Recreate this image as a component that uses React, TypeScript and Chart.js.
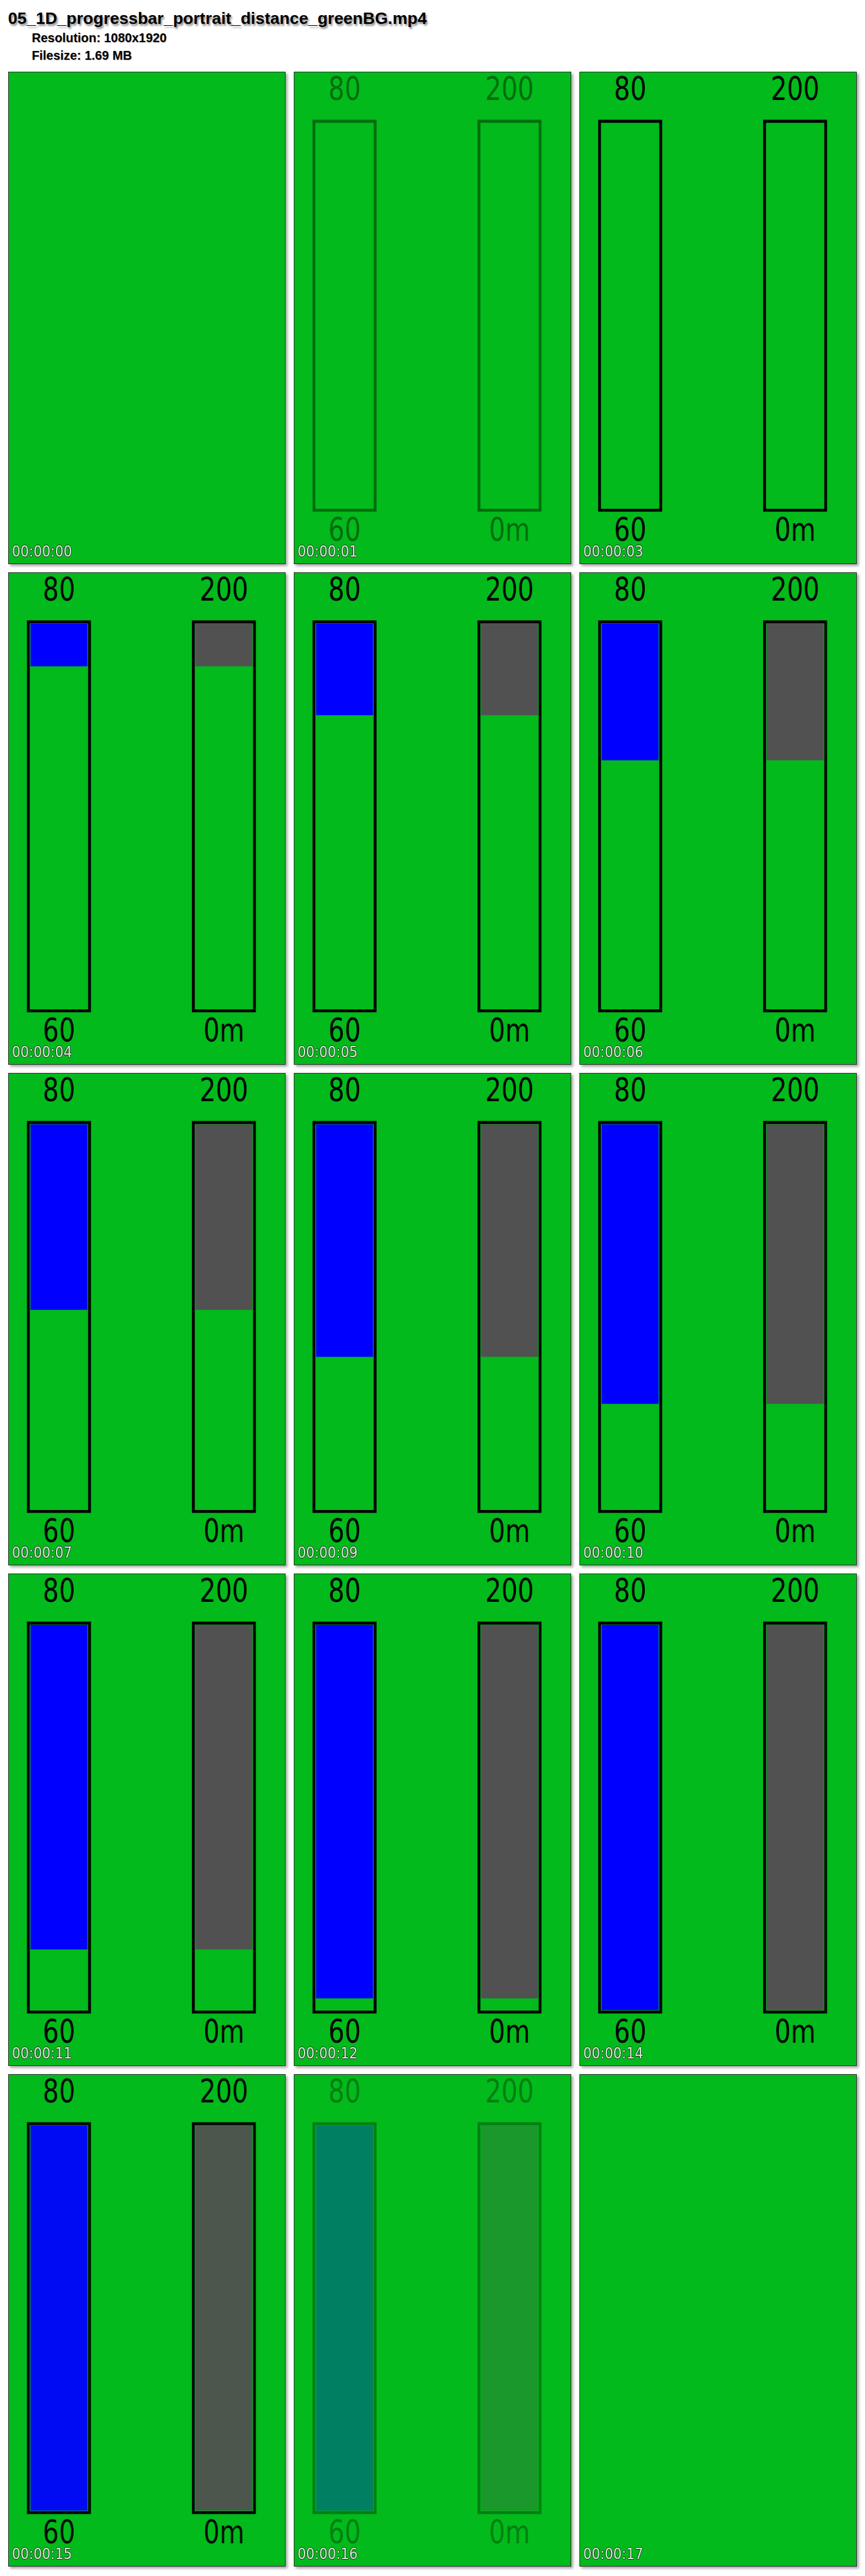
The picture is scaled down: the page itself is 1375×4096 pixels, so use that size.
import React, { useEffect, useRef } from "react";
import { Chart, registerables } from "chart.js";

Chart.register(...registerables);

// ---------- data ----------
const titleText = "05_1D_progressbar_portrait_distance_greenBG.mp4";
const resolutionText = "Resolution: 1080x1920";
const filesizeText = "Filesize: 1.69 MB";

const frameTimes = [
  "00:00:00", "00:00:01", "00:00:03", "00:00:04", "00:00:05",
  "00:00:06", "00:00:07", "00:00:09", "00:00:10", "00:00:11",
  "00:00:12", "00:00:14", "00:00:15", "00:00:16", "00:00:17",
];
// visibility of the overlay in each frame (fade in / fade out)
const frameOpacity = [0, 0.42, 1, 1, 1, 1, 1, 1, 1, 1, 1, 1, 0.95, 0.32, 0];

const topLabels = ["80", "200"];
const bottomLabels = ["60", "0m"];
const leftRange = [60, 80];
const rightRange = [0, 200];

// current level of the left (blue) and right (grey) bars per frame
const leftValues: (number | null)[] = [
  null, null, null, 77.5, 75.0, 72.7, 70.2, 67.8, 65.4, 63.1, 60.6, 60, 60, 60, null,
];
const rightValues: (number | null)[] = [
  null, null, null, 175, 150, 127, 102, 78, 54, 31, 6, 0, 0, 0, null,
];

// ---------- layout ----------
const GREEN = "rgb(2,186,27)";
const BLUE = "rgb(0,0,255)";
const GREY = "rgb(81,81,81)";
const PANEL_W = 441;
const PANEL_H = 783;
// the video text is horizontally narrow: the canvas is drawn wider and squeezed
const SQUEEZE = 0.78;
const CANVAS_W = Math.round(PANEL_W / SQUEEZE);
const K = CANVAS_W / PANEL_W;
const COL_X0 = 12.95;
const COL_STEP = 453.9;
const ROW_Y0 = 113.7;
const ROW_STEP = 796.0;
const LABEL_FONT = "'DejaVu Sans', sans-serif";

function FramePanel({ index }: { index: number }) {
  const ref = useRef<HTMLCanvasElement | null>(null);

  useEffect(() => {
    if (!ref.current) return;
    const lv = leftValues[index];
    const rv = rightValues[index];
    const outlineBorder = { left: 4.1 * K, right: 4.1 * K, top: 4.1, bottom: 4.1 };
    const outlineThickness = 101.5 * K;
    const fillThickness = 90.5 * K + 10.2;
    const chart = new Chart(ref.current, {
      type: "bar",
      data: {
        labels: bottomLabels,
        datasets: [
          {
            label: "left outline",
            data: [[leftRange[0], leftRange[1]], null] as any,
            xAxisID: "x",
            yAxisID: "yL",
            backgroundColor: "rgba(0,0,0,0)",
            borderColor: "#000",
            borderWidth: outlineBorder,
            borderSkipped: false,
            barThickness: outlineThickness,
            grouped: false,
            clip: false,
            order: 0,
          },
          {
            label: "right outline",
            data: [null, [rightRange[0], rightRange[1]]] as any,
            xAxisID: "x",
            yAxisID: "yR",
            backgroundColor: "rgba(0,0,0,0)",
            borderColor: "#000",
            borderWidth: outlineBorder,
            borderSkipped: false,
            barThickness: outlineThickness,
            grouped: false,
            clip: false,
            order: 0,
          },
          {
            label: "left level",
            data: [lv === null ? null : [lv, leftRange[1]], null] as any,
            xAxisID: "x",
            yAxisID: "yL",
            backgroundColor: BLUE,
            borderWidth: 0,
            barThickness: fillThickness,
            inflateAmount: -5.1,
            grouped: false,
            clip: false,
            order: 1,
          },
          {
            label: "right level",
            data: [null, rv === null ? null : [rv, rightRange[1]]] as any,
            xAxisID: "x",
            yAxisID: "yR",
            backgroundColor: GREY,
            borderWidth: 0,
            barThickness: fillThickness,
            inflateAmount: -5.1,
            grouped: false,
            clip: false,
            order: 1,
          },
        ],
      },
      options: {
        animation: false,
        responsive: false,
        devicePixelRatio: 1,
        events: [],
        clip: false,
        layout: { padding: { left: 80.7 * K, right: 98.1 * K, top: -14.3, bottom: 17.6 } },
        plugins: {
          legend: { display: false },
          tooltip: { enabled: false },
          title: { display: false },
        },
        scales: {
          x: {
            type: "category",
            position: "bottom",
            labels: bottomLabels,
            offset: false,
            grid: { display: false, drawTicks: false },
            border: { display: false },
            ticks: {
              color: "#000",
              padding: 7,
              autoSkip: false,
              maxRotation: 0,
              font: { family: LABEL_FONT, size: 52, lineHeight: 1 },
            },
          },
          xTop: {
            type: "category",
            position: "top",
            labels: topLabels,
            offset: false,
            grid: { display: false, drawTicks: false },
            border: { display: false },
            ticks: {
              color: "#000",
              padding: 19.5,
              autoSkip: false,
              maxRotation: 0,
              font: { family: LABEL_FONT, size: 52, lineHeight: 1 },
            },
          },
          yL: { type: "linear", min: leftRange[0], max: leftRange[1], display: false },
          yR: { type: "linear", min: rightRange[0], max: rightRange[1], display: false },
        },
      } as any,
    });
    return () => chart.destroy();
  }, [index]);

  const col = index % 3;
  const row = Math.floor(index / 3);
  return (
    <div
      style={{
        position: "absolute",
        left: COL_X0 + col * COL_STEP,
        top: ROW_Y0 + row * ROW_STEP,
        width: PANEL_W,
        height: PANEL_H,
        background: GREEN,
        boxShadow: "inset 0 0 0 1px #2e2e2e, 3px 3px 4px rgba(0,0,0,0.35)",
      }}
    >
      <canvas
        ref={ref}
        width={CANVAS_W}
        height={PANEL_H}
        style={{
          position: "absolute",
          left: 0,
          top: 0,
          width: PANEL_W,
          height: PANEL_H,
          opacity: frameOpacity[index],
        }}
      />
      <span
        style={{
          position: "absolute",
          left: 6.5,
          top: 751.2,
          fontFamily: "'DejaVu Sans', sans-serif",
          fontSize: 24.5,
          lineHeight: 1,
          color: "#cdeecd",
          whiteSpace: "nowrap",
          transform: "scaleX(0.868)",
          transformOrigin: "0 0",
          textShadow:
            "1px 0 0 #2a2a2a, -1px 0 0 #2a2a2a, 0 1px 0 #2a2a2a, 0 -1px 0 #2a2a2a",
        }}
      >
        {frameTimes[index]}
      </span>
    </div>
  );
}

export default function App() {
  return (
    <div
      style={{
        position: "absolute",
        left: 0,
        top: 0,
        width: 1375,
        height: 4096,
        background: "#fff",
        overflow: "hidden",
      }}
    >
      <div
        style={{
          position: "absolute",
          left: 12.7,
          top: 15.6,
          fontFamily: "'Liberation Sans', Arial, sans-serif",
          fontWeight: "bold",
          fontSize: 26.5,
          lineHeight: 1,
          color: "#000",
          whiteSpace: "nowrap",
          textShadow: "2px 3px 3px rgba(0,0,0,0.45)",
        }}
      >
        {titleText}
      </div>
      <div
        style={{
          position: "absolute",
          left: 50.4,
          top: 51.0,
          fontFamily: "'Liberation Sans', Arial, sans-serif",
          fontWeight: "bold",
          fontSize: 19.9,
          lineHeight: 1,
          color: "#000",
          whiteSpace: "nowrap",
          textShadow: "1px 1px 1px rgba(0,0,0,0.25)",
        }}
      >
        {resolutionText}
      </div>
      <div
        style={{
          position: "absolute",
          left: 50.4,
          top: 79.2,
          fontFamily: "'Liberation Sans', Arial, sans-serif",
          fontWeight: "bold",
          fontSize: 19.9,
          lineHeight: 1,
          color: "#000",
          whiteSpace: "nowrap",
          textShadow: "1px 1px 1px rgba(0,0,0,0.25)",
        }}
      >
        {filesizeText}
      </div>
      {frameTimes.map((_, i) => (
        <FramePanel key={i} index={i} />
      ))}
    </div>
  );
}
